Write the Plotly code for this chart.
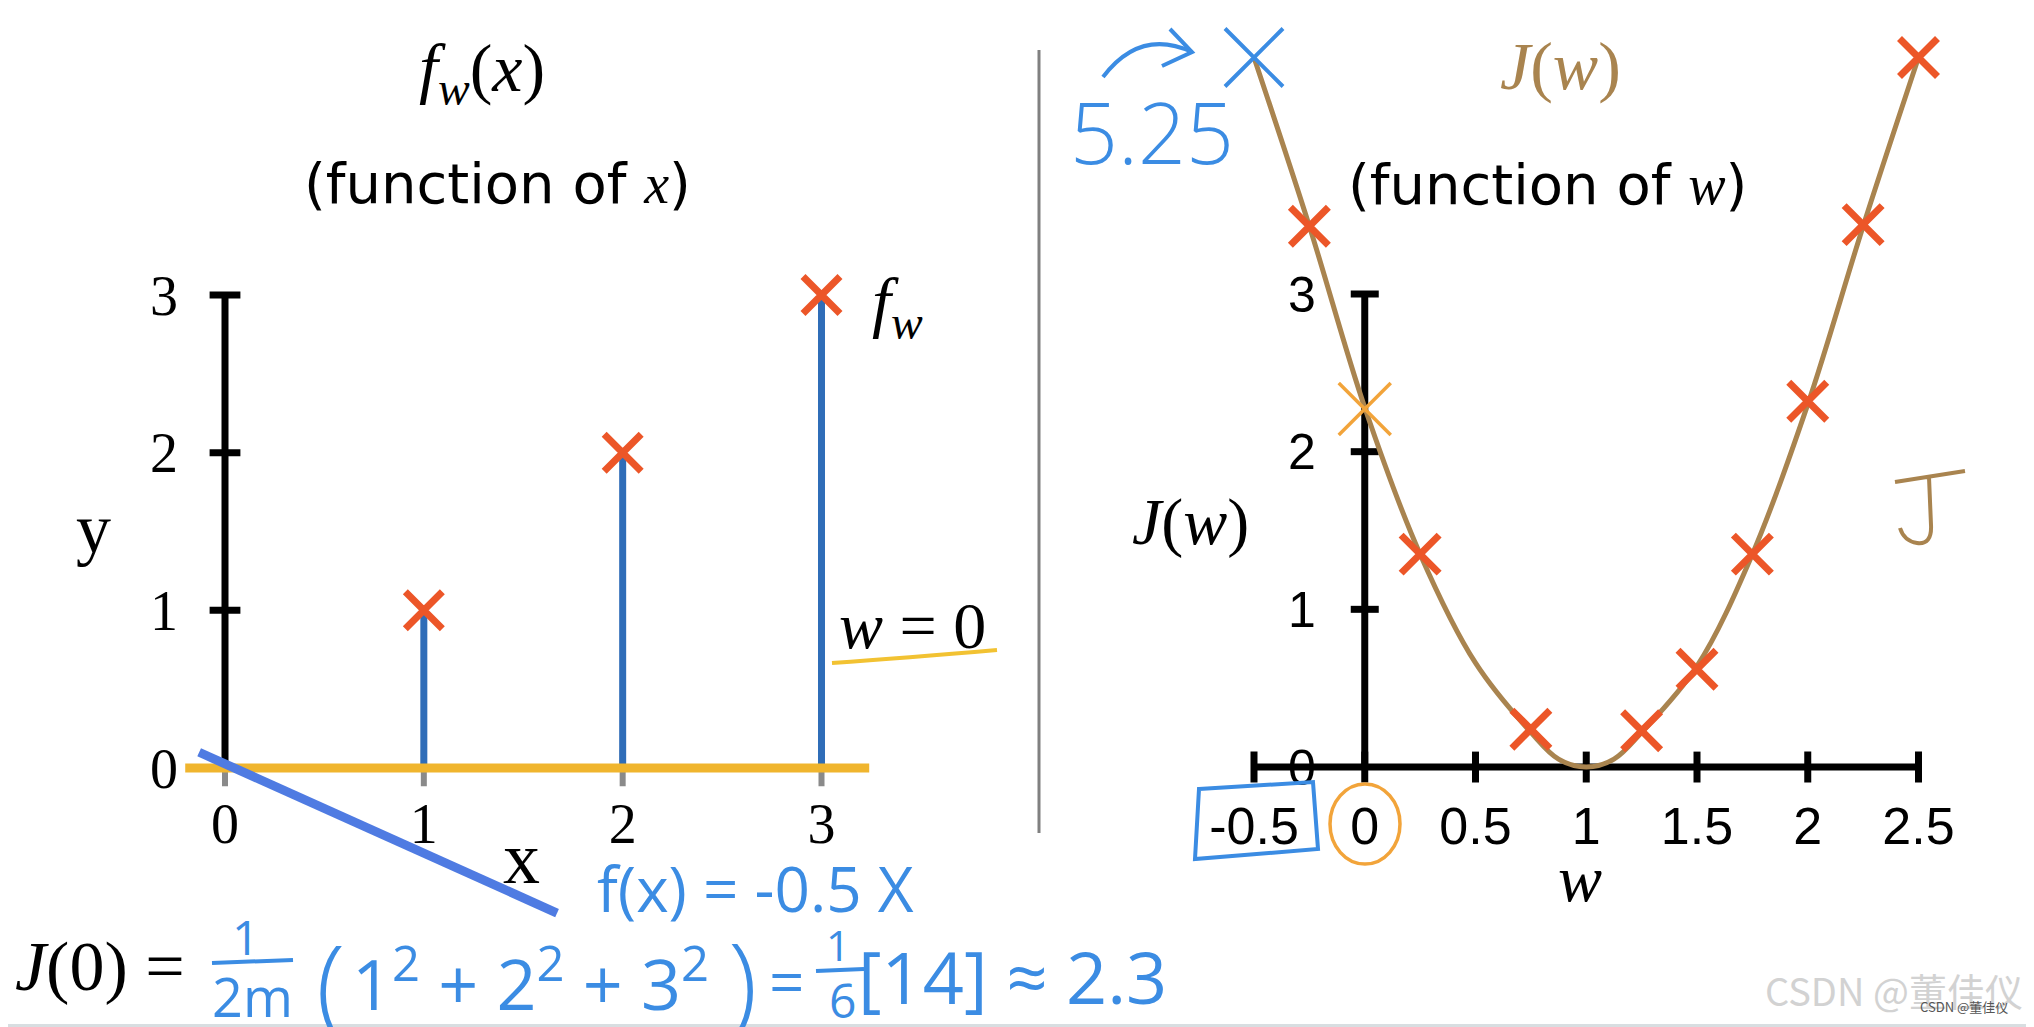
import plotly.graph_objects as go

# ---------------- data ----------------
# left panel: training data and the w = 0 model
train_x = [1, 2, 3]
train_y = [1, 2, 3]
model_w0_x = [-0.2, 3.24]          # f_w(x) with w = 0 (flat line)
model_w0_y = [0.0, 0.0]
model_neg_x = [-0.13, 1.67]         # hand-drawn f(x) = -0.5x
model_neg_y = [0.10, -0.92]
left_xticks = [0, 1, 2, 3]
left_yticks = [0, 1, 2, 3]

# right panel: cost J(w)
cost_curve_w = [-0.5, -0.25, 0.0, 0.25, 0.5, 0.75, 0.875, 1.0, 1.125, 1.25, 1.5, 1.75, 2.0, 2.25, 2.5]
cost_curve_J = [4.5, 3.43, 2.28, 1.35, 0.66, 0.22, 0.05, 0.0, 0.05, 0.22, 0.64, 1.35, 2.3, 3.43, 4.5]
red_w = [-0.25, 0.25, 0.75, 1.25, 1.5, 1.75, 2.0, 2.25, 2.5]
red_J = [3.43, 1.35, 0.24, 0.23, 0.62, 1.35, 2.32, 3.44, 4.5]
w_zero_w = [0.0]
w_zero_J = [2.27]
w_neg_w = [-0.5]
w_neg_J = [4.5]
right_xticks = [-0.5, 0, 0.5, 1, 1.5, 2, 2.5]
right_xticklabels = ["-0.5", "0", "0.5", "1", "1.5", "2", "2.5"]
right_yticks = [0, 1, 2, 3]

# ---------------- style ----------------
W, H = 2034, 1027
OFF = 8   # default page body margin
RED = "#EC5628"
STEM = "#2F6DB8"
YEL = "#F0B52E"
HANDBLUE = "#3B8CE3"
LINEBLUE = "#4F7BE2"
BROWN = "#A9844F"
ORANGE = "#F2A43A"
SERIF = "Liberation Serif, DejaVu Serif, serif"
SANS = "Liberation Sans, Arial, sans-serif"
TSANS = "DejaVu Sans, sans-serif"
HAND = "Open Sans, Lato, sans-serif"


def fx(px):
    return (px - OFF) / W


def fy(py):
    return 1 - (py - OFF) / H


def xdom(pa, va, pb, vb, lo, hi):
    s = (pb - pa) / (vb - va)
    return [fx(pa + (lo - va) * s), fx(pa + (hi - va) * s)]


def ydom(pa, va, pb, vb, lo, hi):
    s = (pb - pa) / (vb - va)
    return [fy(pa + (lo - va) * s), fy(pa + (hi - va) * s)]


def pth(cmds):
    out = []
    for c in cmds:
        if isinstance(c, str):
            out.append(c)
        else:
            out.append(f"{fx(c[0]):.5f},{fy(c[1]):.5f}")
    return " ".join(out)


LXR = [-0.6, 3.6]
YR = [-1.35, 4.8]
RXR = [-0.8, 2.8]
L_X0, L_X3, L_Y0, L_Y3 = 225, 821.5, 768, 295
R_XA, R_XB, R_Y0, R_Y3 = 1254, 1918.5, 767, 294

fig = go.Figure()

# stems built from the data arrays
stem_x, stem_y = [], []
for xv, yv in zip(train_x, train_y):
    stem_x += [xv, xv, None]
    stem_y += [0, yv, None]

# ----- left panel -----
fig.add_trace(go.Scatter(x=left_xticks, y=[0] * len(left_xticks), mode="markers", xaxis="x", yaxis="y",
                         marker=dict(symbol="line-ns", size=26, line=dict(width=6, color="#8a8a8a"))))
fig.add_trace(go.Scatter(x=[0, 0], y=[left_yticks[0], left_yticks[-1]], mode="lines", xaxis="x", yaxis="y",
                         line=dict(color="black", width=7)))
fig.add_trace(go.Scatter(x=[0] * (len(left_yticks) - 1), y=left_yticks[1:], mode="markers", xaxis="x", yaxis="y",
                         marker=dict(symbol="line-ew", size=22, line=dict(width=7, color="black"))))
fig.add_trace(go.Scatter(x=stem_x, y=stem_y, mode="lines", xaxis="x", yaxis="y",
                         line=dict(color=STEM, width=7)))
fig.add_trace(go.Scatter(x=model_w0_x, y=model_w0_y, mode="lines", xaxis="x", yaxis="y",
                         line=dict(color=YEL, width=9)))
fig.add_trace(go.Scatter(x=train_x, y=train_y, mode="markers", xaxis="x", yaxis="y",
                         marker=dict(symbol="x-thin", size=37, line=dict(width=7, color=RED))))
fig.add_trace(go.Scatter(x=model_neg_x, y=model_neg_y, mode="lines", xaxis="x", yaxis="y",
                         line=dict(color=LINEBLUE, width=9)))

# ----- right panel -----
fig.add_trace(go.Scatter(x=[right_xticks[0], right_xticks[-1]], y=[0, 0], mode="lines", xaxis="x2", yaxis="y2",
                         line=dict(color="black", width=7)))
fig.add_trace(go.Scatter(x=right_xticks, y=[0] * len(right_xticks), mode="markers", xaxis="x2", yaxis="y2",
                         marker=dict(symbol="line-ns", size=22, line=dict(width=7, color="black"))))
fig.add_trace(go.Scatter(x=[0, 0], y=[right_yticks[0], right_yticks[-1]], mode="lines", xaxis="x2", yaxis="y2",
                         line=dict(color="black", width=7)))
fig.add_trace(go.Scatter(x=[0] * (len(right_yticks) - 1), y=right_yticks[1:], mode="markers", xaxis="x2", yaxis="y2",
                         marker=dict(symbol="line-ew", size=20, line=dict(width=7, color="black"))))
fig.add_trace(go.Scatter(x=cost_curve_w, y=cost_curve_J, mode="lines", xaxis="x2", yaxis="y2",
                         line=dict(color=BROWN, width=5, shape="spline", smoothing=1.0)))
fig.add_trace(go.Scatter(x=red_w, y=red_J, mode="markers", xaxis="x2", yaxis="y2",
                         marker=dict(symbol="x-thin", size=38, line=dict(width=7, color=RED))))
fig.add_trace(go.Scatter(x=w_zero_w, y=w_zero_J, mode="markers", xaxis="x2", yaxis="y2",
                         marker=dict(symbol="x-thin", size=52, line=dict(width=3.5, color=ORANGE))))
fig.add_trace(go.Scatter(x=w_neg_w, y=w_neg_J, mode="markers", xaxis="x2", yaxis="y2",
                         marker=dict(symbol="x-thin", size=58, line=dict(width=4, color=HANDBLUE))))

axis_common = dict(showgrid=False, zeroline=False, showline=False, ticks="", fixedrange=True, automargin=False)

fig.update_layout(
    width=W, height=H, margin=dict(l=0, r=0, t=0, b=0),
    paper_bgcolor="white", plot_bgcolor="rgba(0,0,0,0)", showlegend=False,
    xaxis=dict(domain=xdom(L_X0, 0, L_X3, 3, *LXR), range=LXR, anchor="free", position=fy(L_Y0),
               tickvals=left_xticks, ticktext=[str(v) for v in left_xticks],
               tickfont=dict(family=SERIF, size=56, color="black"), ticklabelstandoff=18, **axis_common),
    yaxis=dict(domain=ydom(L_Y0, 0, L_Y3, 3, *YR), range=YR, anchor="free", position=fx(L_X0),
               tickvals=left_yticks, ticktext=[str(v) for v in left_yticks],
               tickfont=dict(family=SERIF, size=56, color="black"), ticklabelstandoff=47, **axis_common),
    xaxis2=dict(domain=xdom(R_XA, -0.5, R_XB, 2.5, *RXR), range=RXR, anchor="free",
                position=fy(R_Y0), tickvals=right_xticks, ticktext=right_xticklabels,
                tickfont=dict(family=SANS, size=52, color="black"), ticklabelstandoff=24, **axis_common),
    yaxis2=dict(domain=ydom(R_Y0, 0, R_Y3, 3, *YR), range=YR, anchor="free",
                position=fx(R_XA + 0.5 * (R_XB - R_XA) / 3), tickvals=right_yticks,
                ticktext=[str(v) for v in right_yticks],
                tickfont=dict(family=SANS, size=50, color="black"), ticklabelstandoff=49, **axis_common),
)


def ann(text, px, py, size, color="black", family=SERIF, xanchor="center", yanchor="middle", weight=None):
    font = dict(size=size, color=color, family=family)
    if weight is not None:
        font["weight"] = weight
    return dict(text=text, x=fx(px), y=fy(py), xref="paper", yref="paper", showarrow=False,
                font=font, xanchor=xanchor, yanchor=yanchor)


SI = "<span style=\"font-family:Liberation Serif\"><i>{}</i></span>"
anns = [
    ann("<i>f</i><sub><i>w</i></sub>(<i>x</i>)", 482, 72, 68),
    ann("(function of " + SI.format("x") + ")", 497, 183, 56, family=TSANS),
    ann("<i>J</i>(<i>w</i>)", 1560, 66, 68, color=BROWN),
    ann("(function of " + SI.format("w") + ")", 1547, 184, 56, family=TSANS),
    ann("y", 93, 528, 70),
    ann("x", 521, 858, 74),
    ann("<i>f</i><sub><i>w</i></sub>", 897, 306, 68),
    ann("<i>w</i> = 0", 912, 625, 66),
    ann("<i>J</i>(<i>w</i>)", 1190, 522, 66),
    ann("<i>w</i>", 1580, 878, 66),
    ann("5.25", 1152, 132, 84, color=HANDBLUE, family=HAND, weight=300),
    ann("f(x) = -0.5 X", 755, 888, 62, color=HANDBLUE, family=HAND),
    # bottom formula
    ann("<i>J</i>(0) =", 13, 966, 70, xanchor="left"),
    ann("1", 245, 936, 48, color=HANDBLUE, family=HAND),
    ann("2m", 252, 996, 54, color=HANDBLUE, family=HAND),
    ann("(", 330, 982, 108, color=HANDBLUE, family=HAND, weight=300),
    ann("1<sup>2</sup> + 2<sup>2</sup> + 3<sup>2</sup>", 350, 980, 70, color=HANDBLUE, family=HAND,
        xanchor="left"),
    ann(")", 742, 980, 108, color=HANDBLUE, family=HAND, weight=300),
    ann("=", 786, 981, 62, color=HANDBLUE, family=HAND),
    ann("1", 838, 944, 42, color=HANDBLUE, family=HAND),
    ann("6", 842, 999, 48, color=HANDBLUE, family=HAND),
    ann("[14] ≈ 2.3", 856, 976, 72, color=HANDBLUE, family=HAND, xanchor="left"),
    # watermark
    ann("CSDN @董佳仪", 1894, 989, 38, color="#d2d2d2", family="Noto Sans CJK SC, Liberation Sans, sans-serif"),
    ann("CSDN @董佳仪", 1964, 1006, 13, color="#555555", family="Noto Sans CJK SC, Liberation Sans, sans-serif"),
]
fig.update_layout(annotations=anns)

shapes = [
    # vertical separator
    dict(type="line", xref="paper", yref="paper", x0=fx(1039), x1=fx(1039), y0=fy(50), y1=fy(833),
         line=dict(color="#808080", width=3)),
    # yellow underline under w = 0
    dict(type="path", xref="paper", yref="paper",
         path=pth(["M", (832, 663), "Q", (905, 658), (997, 650)]), line=dict(color="#F2C232", width=4)),
    # blue curved arrow
    dict(type="path", xref="paper", yref="paper",
         path=pth(["M", (1103, 77), "Q", (1140, 28), (1192, 52)]), line=dict(color=HANDBLUE, width=4)),
    dict(type="path", xref="paper", yref="paper",
         path=pth(["M", (1170, 29), "L", (1192, 52), "L", (1162, 66)]), line=dict(color=HANDBLUE, width=4)),
    # blue box around -0.5
    dict(type="path", xref="paper", yref="paper",
         path=pth(["M", (1199, 789), "L", (1313, 782), "L", (1318, 849), "L", (1195, 859), "Z"]),
         line=dict(color=HANDBLUE, width=4)),
    # orange circle around 0
    dict(type="circle", xref="paper", yref="paper", x0=fx(1330), x1=fx(1400), y0=fy(784), y1=fy(864),
         line=dict(color=ORANGE, width=3.5)),
    # handwritten J
    dict(type="path", xref="paper", yref="paper",
         path=pth(["M", (1895, 482), "L", (1965, 471), "M", (1929, 477), "L", (1931, 525),
                   "Q", (1932, 545), (1917, 543), "Q", (1904, 541), (1900, 528)]),
         line=dict(color=BROWN, width=4)),
    # fraction bars
    dict(type="line", xref="paper", yref="paper", x0=fx(212), x1=fx(293), y0=fy(963), y1=fy(960),
         line=dict(color=HANDBLUE, width=4)),
    dict(type="line", xref="paper", yref="paper", x0=fx(816), x1=fx(864), y0=fy(971), y1=fy(969),
         line=dict(color=HANDBLUE, width=4)),
    # bottom border line
    dict(type="rect", xref="paper", yref="paper", x0=0, x1=1, y0=fy(1027), y1=fy(1024),
         line=dict(width=0), fillcolor="#D8DEE1"),
]
fig.update_layout(shapes=shapes)

fig.write_html("out.html")
